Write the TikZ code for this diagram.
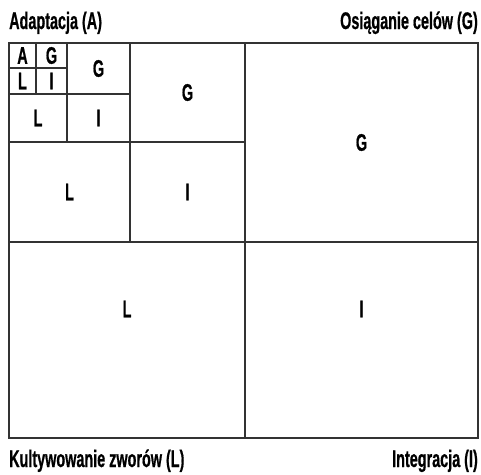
\documentclass[tikz,border=0pt]{standalone}
\usepackage{fontspec}
\newfontfamily\condfont{Liberation Sans}[FakeStretch=0.6, FakeBold=0.6]
\usepackage{tikz}

\begin{document}
\begin{tikzpicture}[x=1pt, y=-1pt, every node/.style={font=\condfont\bfseries\fontsize{24}{26}\selectfont, inner sep=0pt},
  grid/.style={draw=black!80, line width=1.6pt}]
  \useasboundingbox (0,0) rectangle (481,474);

  % Outer frame and main cross
  \draw[grid] (9,43) rectangle (478,438);
  \draw[grid] (245,43) -- (245,438);
  \draw[grid] (9,242) -- (478,242);

  % Second level (top left)
  \draw[grid] (130,43) -- (130,242);
  \draw[grid] (9,142) -- (245,142);

  % Third level
  \draw[grid] (67,43) -- (67,142);
  \draw[grid] (9,94) -- (130,94);

  % Fourth level
  \draw[grid] (36,43) -- (36,94);
  \draw[grid] (9,68) -- (67,68);

  % Captions
  \node[anchor=base west] (capA) at (9,29) {Adaptacja (A)};
  \node[anchor=base east] (capG) at (478,29) {Osiąganie celów (G)};
  \node[anchor=base west] (capL) at (9,467) {Kultywowanie zworów (L)};
  \node[anchor=base east] (capI) at (478,467) {Integracja (I)};

  % Fourth level labels
  \node (a4) at (22.5,55.5) {A};
  \node (g4) at (51.5,55.5) {G};
  \node (l4) at (22.5,81) {L};
  \node (i4) at (51.5,81) {I};

  % Third level labels
  \node (g3) at (98.5,68.5) {G};
  \node (l3) at (38,118) {L};
  \node (i3) at (98.5,118) {I};

  % Second level labels
  \node (g2) at (187.5,92.5) {G};
  \node (l2) at (69.5,192) {L};
  \node (i2) at (187.5,192) {I};

  % First level labels
  \node (g1) at (361.5,142.5) {G};
  \node (l1) at (127,309) {L};
  \node (i1) at (361.5,309) {I};
\end{tikzpicture}
\end{document}
